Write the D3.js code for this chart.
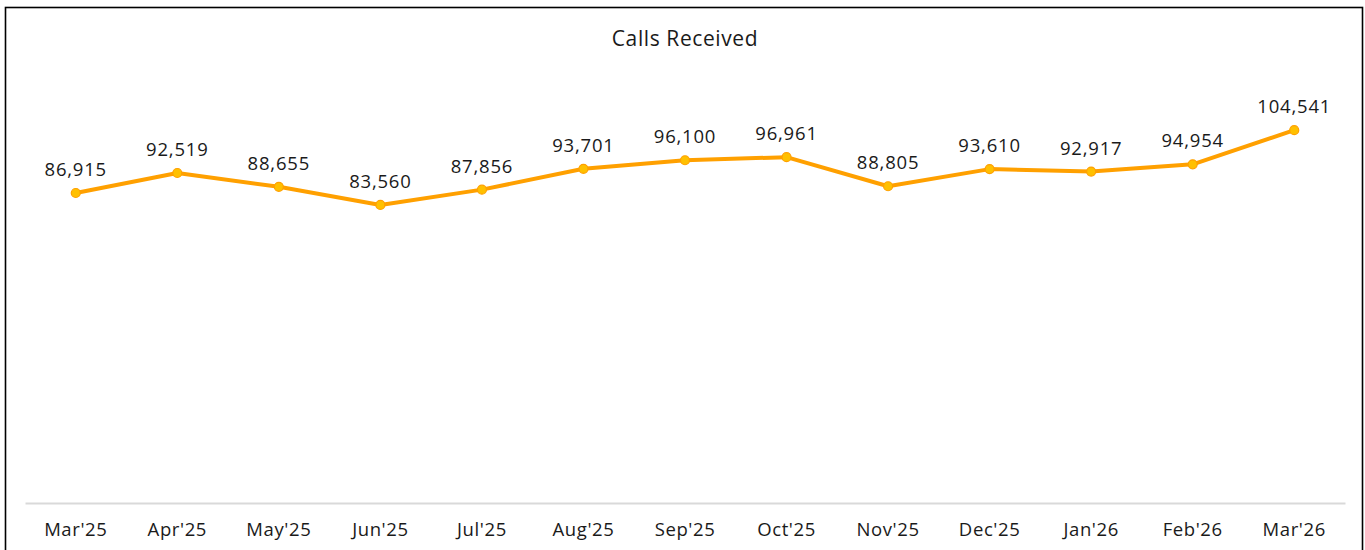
<!DOCTYPE html>
<html><head><meta charset="utf-8">
<script src="https://cdn.jsdelivr.net/npm/d3@7"></script>
<style>body{margin:0;background:#fff}svg{display:block}text{font-family:"Open Sans",sans-serif;fill:#1a1a1a}</style>
</head><body><svg id="c" width="1365" height="550"></svg>
<script>
const months = ["Mar'25","Apr'25","May'25","Jun'25","Jul'25","Aug'25","Sep'25","Oct'25","Nov'25","Dec'25","Jan'26","Feb'26","Mar'26"];
const calls = [86915,92519,88655,83560,87856,93701,96100,96961,88805,93610,92917,94954,104541];
const title = "Calls Received";

const svg = d3.select("#c");
svg.append("rect").attr("x",5.5).attr("y",7.5).attr("width",1357).attr("height",600)
  .attr("fill","#fff").attr("stroke","#000").attr("stroke-width",1.6);

const x = d3.scaleBand().domain(months).range([25,1345]);
const y = d3.scaleLinear().domain([0,120000]).range([503,75]);

svg.append("text").attr("x",685).attr("y",46).attr("text-anchor","middle")
  .attr("font-size",21).attr("letter-spacing",0.6).text(title);

const ax = svg.append("g").attr("transform","translate(0,503)")
  .call(d3.axisBottom(x).tickSize(0).tickPadding(20));
ax.select(".domain").attr("stroke","#d9d9d9").attr("stroke-width",2);
ax.selectAll("text").attr("font-size",18.5).attr("fill","#1a1a1a").style("font-family","'Open Sans',sans-serif").attr("letter-spacing",0.6);

const cx = d => x(d) + x.bandwidth()/2;
const line = d3.line().x((d,i)=>cx(months[i])).y(d=>y(d));
svg.append("path").datum(calls).attr("d",line).attr("fill","none")
  .attr("stroke","#FFA000").attr("stroke-width",4).attr("stroke-linejoin","round");

svg.selectAll("circle.pt").data(calls).enter().append("circle")
  .attr("cx",(d,i)=>cx(months[i])).attr("cy",d=>y(d)).attr("r",4.5)
  .attr("fill","#FFC000").attr("stroke","#FFA000").attr("stroke-width",1.2);

svg.selectAll("text.lbl").data(calls).enter().append("text").attr("class","lbl")
  .attr("x",(d,i)=>cx(months[i])).attr("y",d=>y(d)-17).attr("text-anchor","middle")
  .attr("font-size",18.5).attr("letter-spacing",0.8).text(d=>d3.format(",")(d));
</script></body></html>
